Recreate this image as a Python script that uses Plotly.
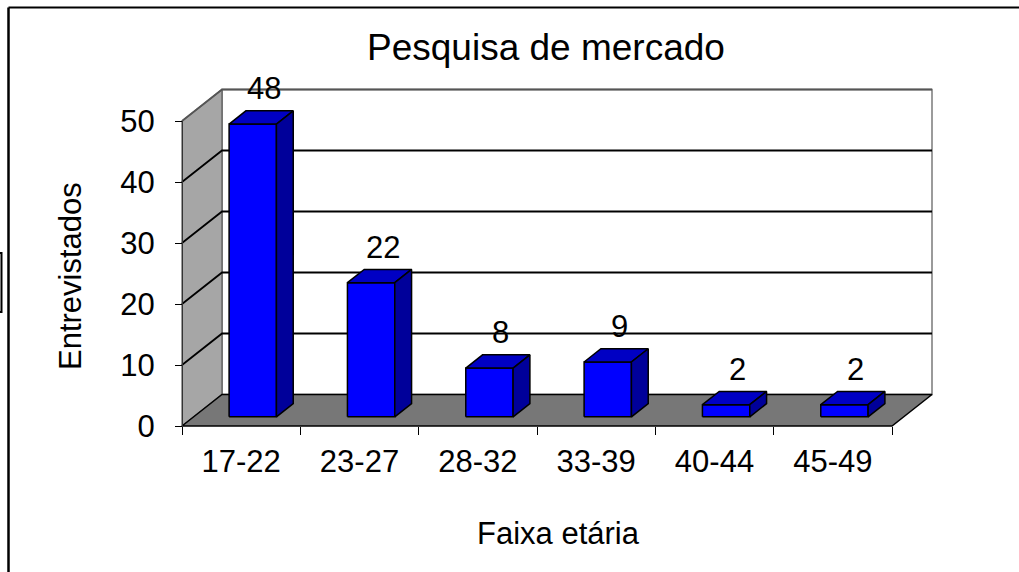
import plotly.graph_objects as go

# ---------------- data ----------------
categories = ["17-22", "23-27", "28-32", "33-39", "40-44", "45-49"]
values = [48, 22, 8, 9, 2, 2]
y_ticks = [0, 10, 20, 30, 40, 50]
title_text = "Pesquisa de mercado"
x_title = "Faixa etária"
y_title = "Entrevistados"

# ---------------- geometry (pixels of the target picture) ----------------
W, H = 1019, 572
OFF = 0                     # page body margin removed by post_script
X0, X1 = 182, 892          # front floor edge, left / right
YB, YT = 426, 121          # front 0 level / front top level
YMAX = 50
n = len(categories)
SX = (X1 - X0) / n          # px per category
SY = (YB - YT) / YMAX       # px per unit
DXp, DYp = 40, 31.5         # 3-D depth offset in px
DX, DY = DXp / SX, DYp / SY # depth offset in data units
PAD = 12
F, B = 0.29, 0.71           # bar front / back depth fractions
BW = 0.2                    # half bar width (category units)

FONT = "Arial, Liberation Sans, sans-serif"
FS = 31


def fx(px):
    return (px - OFF) / W


def fy(py):
    return 1 - (py - OFF) / H


fig = go.Figure()


def poly(xs, ys, fill, line_color="black", lw=1.5):
    fig.add_trace(go.Scatter(
        x=list(xs) + [xs[0]], y=list(ys) + [ys[0]], mode="lines",
        fill="toself", fillcolor=fill,
        line=dict(color=line_color, width=lw),
        hoverinfo="skip", showlegend=False, xaxis="x", yaxis="y"))


# back wall
poly([DX, n + DX, n + DX, DX], [DY, DY, YMAX + DY, YMAX + DY], "white", "#7a7a7a", 1.5)
# left wall
poly([0, DX, DX, 0], [0, DY, YMAX + DY, YMAX], "#a6a6a6", "#5a5a5a", 1.2)

# gridlines (left wall diagonals + back wall horizontals)
gx, gy = [], []
for v in y_ticks[1:-1]:
    gx += [0, DX, n + DX, None]
    gy += [v, v + DY, v + DY, None]
fig.add_trace(go.Scatter(x=gx, y=gy, mode="lines", line=dict(color="black", width=1.8),
                         hoverinfo="skip", showlegend=False))
fig.add_trace(go.Scatter(x=[0, DX, n + DX], y=[YMAX, YMAX + DY, YMAX + DY], mode="lines",
                         line=dict(color="#555555", width=1.8),
                         hoverinfo="skip", showlegend=False))

# floor
poly([0, n, n + DX, DX], [0, 0, DY, DY], "#777777", "black", 1.5)

# bars
ddx, ddy = (B - F) * DX, (B - F) * DY
annotations = []
for i, v in enumerate(values):
    x0 = i + 0.5 - BW + F * DX
    x1 = i + 0.5 + BW + F * DX
    y0 = F * DY
    y1 = F * DY + v
    poly([x0, x1, x1, x0], [y0, y0, y1, y1], "#0000ff")
    poly([x0, x1, x1 + ddx, x0 + ddx], [y1, y1, y1 + ddy, y1 + ddy], "#0000c4")
    poly([x1, x1 + ddx, x1 + ddx, x1], [y0, y0 + ddy, y1 + ddy, y1], "#00009a")
    annotations.append(dict(
        x=(x0 + x1) / 2 + ddx / 2, y=y1 + ddy / 2, xref="x", yref="y",
        text=str(v), showarrow=False, xshift=3, yshift=29,
        font=dict(family=FONT, size=FS, color="black"), yanchor="middle"))

# dummy trace to make tick axes render
fig.add_trace(go.Scatter(x=[None], y=[None], xaxis="x2", yaxis="y2",
                         showlegend=False, hoverinfo="skip"))

annotations += [
    dict(x=fx(546), y=fy(47), xref="paper", yref="paper", text=title_text,
         showarrow=False, font=dict(family=FONT, size=37, color="black"),
         xanchor="center", yanchor="middle"),
    dict(x=fx(70), y=fy(276), xref="paper", yref="paper", text=y_title,
         showarrow=False, textangle=-90, font=dict(family=FONT, size=FS, color="black"),
         xanchor="center", yanchor="middle"),
    dict(x=fx(558), y=fy(533), xref="paper", yref="paper", text=x_title,
         showarrow=False, font=dict(family=FONT, size=FS, color="black"),
         xanchor="center", yanchor="middle"),
]

shapes = [
    dict(type="line", xref="paper", yref="paper", x0=fx(8.5), y0=fy(7.5), x1=fx(W + 20), y1=fy(7.5),
         line=dict(color="black", width=2.2)),
    dict(type="line", xref="paper", yref="paper", x0=fx(8.5), y0=fy(7.5), x1=fx(8.5), y1=fy(H + 20),
         line=dict(color="black", width=2.5)),
    dict(type="rect", xref="paper", yref="paper", x0=fx(-10), x1=fx(1.5), y0=fy(253), y1=fy(312),
         line=dict(color="black", width=2)),
]

fig.update_layout(
    width=W, height=H, autosize=False,
    margin=dict(l=0, r=0, t=0, b=0, pad=0, autoexpand=False),
    paper_bgcolor="white", plot_bgcolor="rgba(0,0,0,0)",
    showlegend=False,
    xaxis=dict(domain=[fx(X0 - PAD), fx(X0 + n * SX + DXp + PAD)],
               range=[-PAD / SX, n + DX + PAD / SX], visible=False, fixedrange=True),
    yaxis=dict(domain=[fy(YB + PAD), fy(YT - DYp - PAD)],
               range=[-PAD / SY, YMAX + DY + PAD / SY], visible=False, fixedrange=True),
    xaxis2=dict(domain=[fx(X0), fx(X1)], range=[0, n], anchor="free", position=fy(YB),
                tickmode="array", tickvals=[i + 0.5 for i in range(n)], ticktext=categories,
                ticks="", showline=False, showgrid=False, zeroline=False,
                minor=dict(tickmode="array", tickvals=list(range(n + 1)), ticks="outside",
                           ticklen=8, tickcolor="black", tickwidth=1, showgrid=False),
                tickfont=dict(family=FONT, size=FS, color="black"),
                ticklabelstandoff=14, fixedrange=True),
    yaxis2=dict(domain=[fy(YB), fy(YT)], range=[0, YMAX], anchor="free", position=fx(X0),
                tickmode="array", tickvals=y_ticks, ticks="outside", ticklen=7,
                tickcolor="black", tickwidth=1, showline=True, linecolor="#333333",
                linewidth=1, showgrid=False, zeroline=False,
                tickfont=dict(family=FONT, size=FS, color="black"),
                ticklabelstandoff=14, fixedrange=True),
    annotations=annotations,
    shapes=shapes,
)

fig.write_html("out.html", config={"displayModeBar": False, "staticPlot": True},
               post_script="document.body.style.margin='0';")
